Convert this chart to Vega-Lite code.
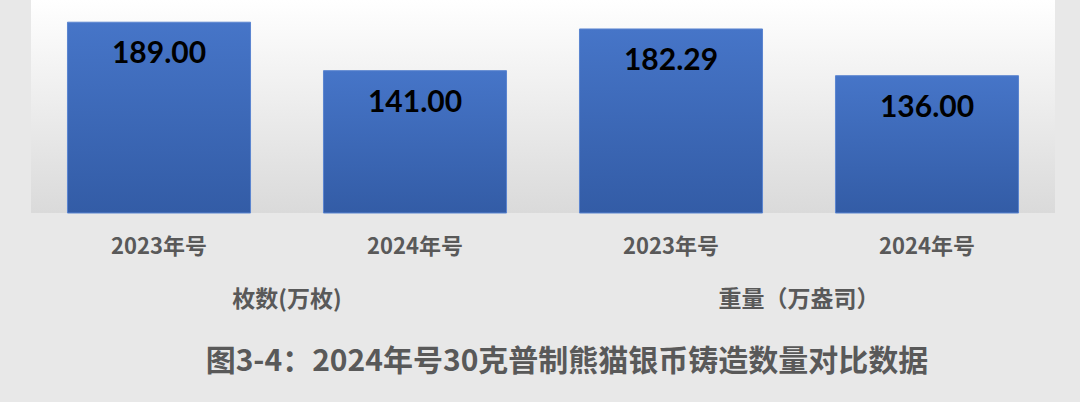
{
  "$schema": "https://vega.github.io/schema/vega-lite/v6.json",
  "background": "#e8e8e8",
  "padding": {"top": 0, "left": 31, "right": 25, "bottom": 30},
  "data": {
    "values": [
      {"group": "枚数(万枚)", "year": "2023年号", "value": 189.0},
      {"group": "枚数(万枚)", "year": "2024年号", "value": 141.0},
      {"group": "重量（万盎司）", "year": "2023年号", "value": 182.29},
      {"group": "重量（万盎司）", "year": "2024年号", "value": 136.0}
    ]
  },
  "title": {
    "text": "图3-4：2024年号30克普制熊猫银币铸造数量对比数据",
    "orient": "bottom",
    "anchor": "middle",
    "dx": 24,
    "offset": 35,
    "font": "Noto Sans CJK SC",
    "fontSize": 30,
    "fontWeight": "bold",
    "color": "#595959"
  },
  "facet": {
    "column": {
      "field": "group",
      "type": "nominal",
      "sort": ["枚数(万枚)", "重量（万盎司）"],
      "title": null,
      "header": {
        "orient": "bottom",
        "labelFont": "Noto Sans CJK SC",
        "labelFontSize": 23,
        "labelFontWeight": "bold",
        "labelColor": "#595959",
        "labelPadding": 32
      }
    }
  },
  "spacing": 0,
  "spec": {
    "width": 512,
    "height": 213,
    "encoding": {
      "x": {
        "field": "year",
        "type": "nominal",
        "scale": {"paddingInner": 0.285, "paddingOuter": 0.1425},
        "axis": {
          "title": null,
          "domain": false,
          "ticks": false,
          "tickSize": 0,
          "labelAngle": 0,
          "labelFont": "Noto Sans CJK SC",
          "labelFontSize": 22,
          "labelFontWeight": "bold",
          "labelColor": "#595959",
          "labelPadding": 22
        }
      },
      "y": {
        "field": "value",
        "type": "quantitative",
        "scale": {"domain": [0, 211], "nice": false},
        "axis": null
      }
    },
    "layer": [
      {
        "mark": {
          "type": "bar",
          "color": {
            "gradient": "linear",
            "x1": 0, "y1": 0, "x2": 0, "y2": 1,
            "stops": [
              {"offset": 0, "color": "#4675c8"},
              {"offset": 1, "color": "#335ca6"}
            ]
          },
          "stroke": "#5b85d0",
          "strokeWidth": 1
        }
      },
      {
        "mark": {
          "type": "text",
          "baseline": "alphabetic",
          "dy": 41,
          "font": "Lato",
          "fontSize": 30,
          "fontWeight": "bold",
          "color": "#000000"
        },
        "encoding": {
          "text": {"field": "value", "type": "quantitative", "format": ".2f"}
        }
      }
    ]
  },
  "config": {
    "view": {
      "stroke": null,
      "fill": {
        "gradient": "linear",
        "x1": 0, "y1": 0, "x2": 0, "y2": 1,
        "stops": [
          {"offset": 0, "color": "#ffffff"},
          {"offset": 1, "color": "#dadada"}
        ]
      }
    }
  }
}
